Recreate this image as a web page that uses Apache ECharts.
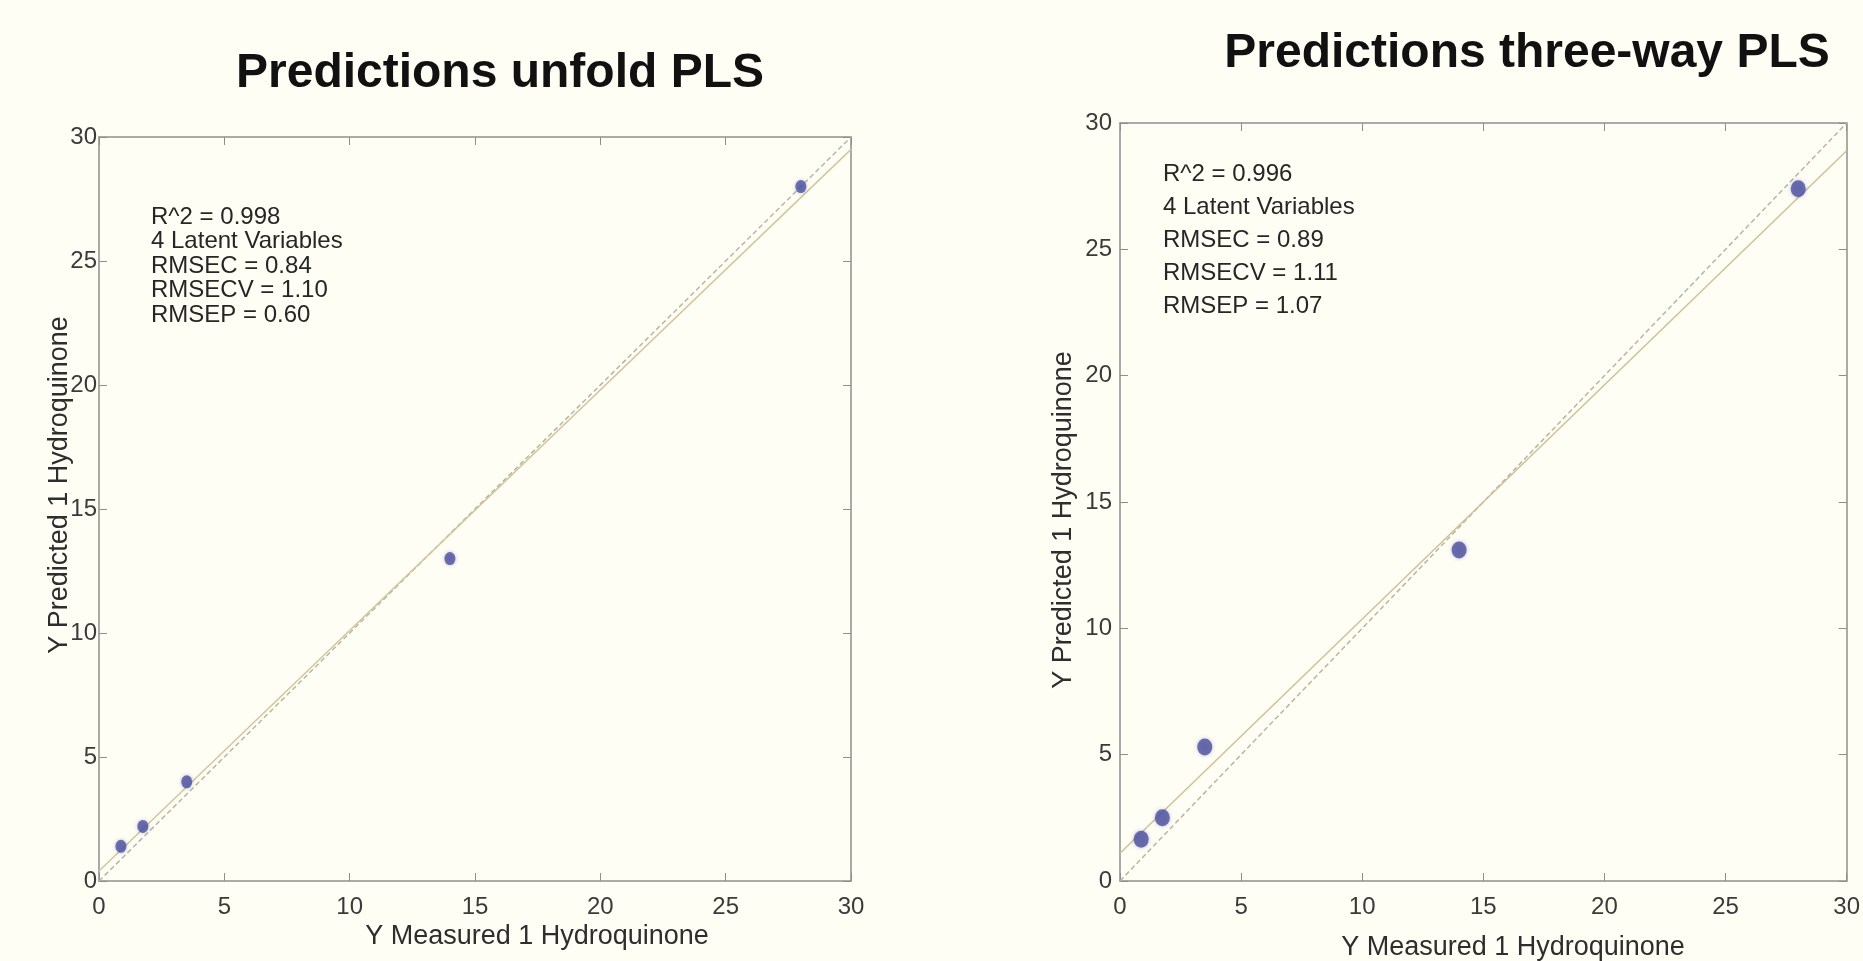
<!DOCTYPE html>
<html>
<head>
<meta charset="utf-8">
<title>Predictions unfold PLS / three-way PLS</title>
<script src="https://cdn.jsdelivr.net/npm/echarts@6/dist/echarts.min.js"></script>
<style>
  html, body { margin: 0; padding: 0; background: #fffef5; }
  #chart { width: 1863px; height: 961px; }
</style>
</head>
<body>
<div id="chart"></div>
<script>
// values
const measured = [0.875, 1.75, 3.5, 14, 28]
const predictedUnfold = [1.4, 2.2, 4.0, 13.0, 28.0]
const predictedThreeWay = [1.65, 2.5, 5.3, 13.1, 27.4]

// reference lines (end points)
const unityLine = [[0, 0], [30, 30]]
const fitUnfold = [[0, 0.4], [30, 29.5]]
const fitThreeWay = [[0, 1.1], [30, 28.9]]

const statsUnfold = ['R^2 = 0.998', '4 Latent Variables', 'RMSEC = 0.84', 'RMSECV = 1.10', 'RMSEP = 0.60']
const statsThreeWay = ['R^2 = 0.996', '4 Latent Variables', 'RMSEC = 0.89', 'RMSECV = 1.11', 'RMSEP = 1.07']

const axisMin = 0
const axisMax = 30
const axisStep = 5

const FONT = '"Liberation Sans", Arial, Helvetica, sans-serif'
const AXIS_COLOR = '#8e8e8e'
const LABEL_COLOR = '#3a3a3a'
const POINT_COLOR = '#4c509e'

function pairs(xs, ys) {
  return xs.map((x, i) => [x, ys[i]])
}

function axis(gridIndex, position, showLabel, margin) {
  return {
    type: 'value',
    gridIndex: gridIndex,
    position: position,
    min: axisMin,
    max: axisMax,
    interval: axisStep,
    axisLine: { show: true, onZero: false, lineStyle: { color: AXIS_COLOR, width: 1.5 } },
    axisTick: { show: true, inside: true, length: 8, lineStyle: { color: AXIS_COLOR, width: 1 } },
    axisLabel: {
      show: showLabel,
      margin: margin,
      color: LABEL_COLOR,
      fontSize: 24,
      fontFamily: FONT
    },
    splitLine: { show: false }
  }
}

function statText(lines, x, y0, step) {
  return lines.map((t, i) => ({
    type: 'text',
    x: x,
    y: y0 + i * step,
    style: {
      text: t,
      fill: '#262626',
      fontSize: 24,
      fontFamily: FONT,
      align: 'left',
      verticalAlign: 'middle'
    }
  }))
}

function label(text, x, y, size, rotate, bold) {
  return {
    type: 'text',
    x: x,
    y: y,
    rotation: rotate ? Math.PI / 2 : 0,
    style: {
      text: text,
      fill: bold ? '#111' : '#2e2e2e',
      fontSize: size,
      fontWeight: bold ? 'bold' : 'normal',
      fontFamily: FONT,
      align: 'center',
      verticalAlign: 'middle'
    }
  }
}

function lineSeries(data, xi, color, dash) {
  return {
    type: 'line',
    xAxisIndex: xi,
    yAxisIndex: xi,
    data: data,
    showSymbol: false,
    silent: true,
    z: 2,
    lineStyle: { color: color, width: 1.5, type: dash ? [5, 3] : 'solid' }
  }
}

function pointSeries(data, xi, size) {
  return {
    type: 'scatter',
    xAxisIndex: xi,
    yAxisIndex: xi,
    data: data,
    symbol: 'circle',
    symbolSize: size,
    z: 5,
    itemStyle: {
      color: POINT_COLOR,
      shadowColor: 'rgba(76, 80, 170, 0.45)',
      shadowBlur: 4
    }
  }
}

const chart = echarts.init(document.getElementById('chart'))

chart.setOption({
  backgroundColor: '#fffef5',
  animation: false,
  grid: [
    { left: 99, top: 137, width: 752, height: 744 },
    { left: 1120, top: 123, width: 727, height: 758 }
  ],
  xAxis: [
    axis(0, 'bottom', true, 14),
    axis(1, 'bottom', true, 14),
    axis(0, 'top', false, 0),
    axis(1, 'top', false, 0)
  ],
  yAxis: [
    axis(0, 'left', true, 2),
    axis(1, 'left', true, 8),
    axis(0, 'right', false, 0),
    axis(1, 'right', false, 0)
  ],
  series: [
    lineSeries(unityLine, 0, '#b3b8a4', true),
    lineSeries(fitUnfold, 0, '#d6c49e', false),
    pointSeries(pairs(measured, predictedUnfold), 0, [11, 13]),
    lineSeries(unityLine, 1, '#b3b8a4', true),
    lineSeries(fitThreeWay, 1, '#d2bf98', false),
    pointSeries(pairs(measured, predictedThreeWay), 1, [15, 17])
  ],
  graphic: [
    label('Predictions unfold PLS', 500, 74, 48, false, true),
    label('Predictions three-way PLS', 1527, 54, 48, false, true),
    label('Y Measured 1 Hydroquinone', 537, 937, 27, false, false),
    label('Y Measured 1 Hydroquinone', 1513, 948, 27, false, false),
    label('Y Predicted 1 Hydroquinone', 60, 485, 27, true, false),
    label('Y Predicted 1 Hydroquinone', 1064, 520, 27, true, false)
  ]
    .concat(statText(statsUnfold, 151, 217, 24.5))
    .concat(statText(statsThreeWay, 1163, 174, 33))
})
</script>
</body>
</html>
